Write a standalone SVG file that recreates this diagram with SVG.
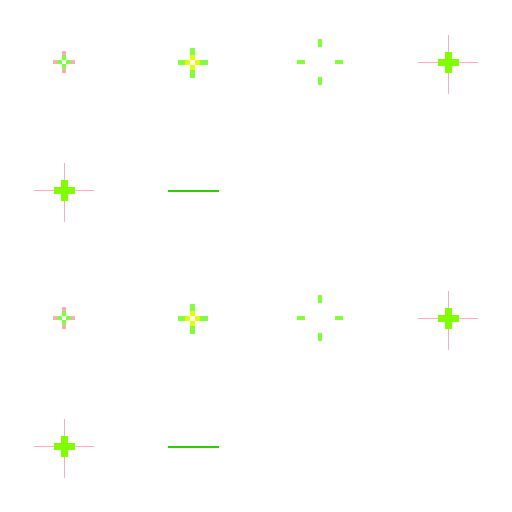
<svg xmlns="http://www.w3.org/2000/svg" width="512" height="512" viewBox="0 0 512 512">
  <style>
    .pk { fill: #ffaabb; }
    .gr { fill: #80ff40; }
    .ye { fill: #e0ff00; }
    .gb { fill: #80ff00; }
    .ln { stroke: #ffaabb; stroke-width: 1; }
    .bar { stroke: #33cc00; stroke-width: 2; }
  </style>
  <defs>
    <g id="small">
      <rect class="pk" x="-2" y="-11" width="4" height="4"/>
      <rect class="pk" x="-2" y="7" width="4" height="4"/>
      <rect class="pk" x="-11" y="-2" width="4" height="4"/>
      <rect class="pk" x="7" y="-2" width="4" height="4"/>
      <rect class="gr" x="-2" y="-7" width="4" height="5"/>
      <rect class="gr" x="-2" y="2" width="4" height="5"/>
      <rect class="gr" x="-7" y="-2" width="5" height="4"/>
      <rect class="gr" x="2" y="-2" width="5" height="4"/>
    </g>
    <g id="medium">
      <rect class="gr" x="-2.5" y="-14.5" width="5" height="7"/>
      <rect class="gr" x="-2.5" y="7.5" width="5" height="8"/>
      <rect class="gr" x="-14.5" y="-2.5" width="7" height="5"/>
      <rect class="gr" x="7.5" y="-2.5" width="8" height="5"/>
      <rect class="ye" x="-2.5" y="-7.5" width="5" height="5"/>
      <rect class="ye" x="-2.5" y="2.5" width="5" height="5"/>
      <rect class="ye" x="-7.5" y="-2.5" width="5" height="5"/>
      <rect class="ye" x="2.5" y="-2.5" width="5" height="5"/>
    </g>
    <g id="open">
      <rect class="gr" x="-2" y="-23" width="4" height="8"/>
      <rect class="gr" x="-2" y="15" width="4" height="8"/>
      <rect class="gr" x="-23" y="-2" width="8" height="4"/>
      <rect class="gr" x="15" y="-2" width="8" height="4"/>
    </g>
    <g id="large">
      <line class="ln" x1="0" y1="-27.5" x2="0" y2="31.5"/>
      <line class="ln" x1="-30.5" y1="0" x2="29.5" y2="0"/>
      <rect class="gb" x="-3.5" y="-10.5" width="7" height="21"/>
      <rect class="gb" x="-10.5" y="-3.5" width="21" height="7"/>
    </g>
  </defs>

  <g id="node-1"><use href="#small" x="64" y="62"/></g>
  <g id="node-2"><use href="#medium" x="192.5" y="62.5"/></g>
  <g id="node-3"><use href="#open" x="320" y="62"/></g>
  <g id="node-4"><use href="#large" x="448.5" y="62.5"/></g>
  <g id="node-5"><use href="#large" x="64.5" y="190.5"/></g>
  <g id="node-6"><line class="bar" x1="168" y1="191" x2="219" y2="191"/></g>

  <g id="node-7"><use href="#small" x="64" y="318"/></g>
  <g id="node-8"><use href="#medium" x="192.5" y="318.5"/></g>
  <g id="node-9"><use href="#open" x="320" y="318"/></g>
  <g id="node-10"><use href="#large" x="448.5" y="318.5"/></g>
  <g id="node-11"><use href="#large" x="64.5" y="446.5"/></g>
  <g id="node-12"><line class="bar" x1="168" y1="447" x2="219" y2="447"/></g>

  <g id="connectors"></g>
</svg>
